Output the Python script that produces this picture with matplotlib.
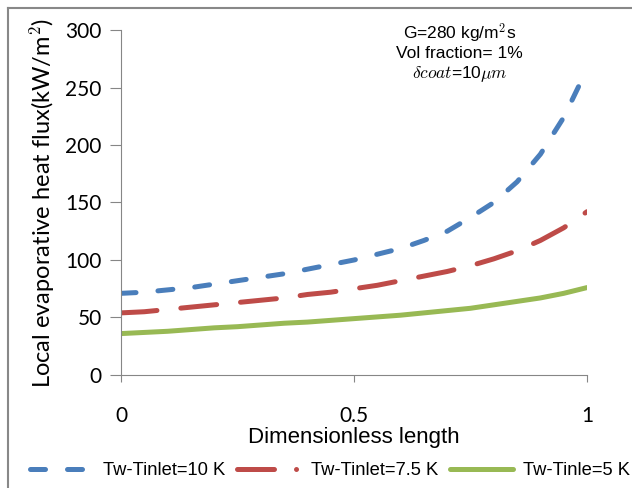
import matplotlib.pyplot as plt
from matplotlib.lines import Line2D

plt.rcParams['font.family'] = ['Liberation Sans', 'DejaVu Sans']
plt.rcParams['mathtext.fontset'] = 'cm'

x = [0, 0.05, 0.1, 0.15, 0.2, 0.25, 0.3, 0.35, 0.4, 0.45, 0.5,
     0.55, 0.6, 0.65, 0.7, 0.75, 0.8, 0.85, 0.9, 0.95, 1.0]
flux_10 = [71, 72, 74, 76, 79, 82, 85, 88, 92, 96, 100,
           105, 110, 117, 125, 137, 150, 168, 192, 224, 266]
flux_75 = [54, 55, 57, 59, 61, 63, 65, 67, 70, 72, 75,
           78, 82, 86, 90, 95, 101, 108, 117, 128, 142]
flux_5 = [36, 37, 38, 39.5, 41, 42, 43.5, 45, 46, 47.5, 49,
          50.5, 52, 54, 56, 58, 61, 64, 67, 71, 76]
labels = ["Tw-Tinlet=10 K", "Tw-Tinlet=7.5 K", "Tw-Tinle=5 K"]
colors = ["#4a7ebb", "#be4b48", "#98b954"]

LW = 3.6
blue_style = dict(color=colors[0], lw=LW, dashes=(3.0, 4.4), dash_capstyle="round")
red_style = dict(color=colors[1], lw=LW, dashes=(7.2, 4.8), dash_capstyle="round")
green_style = dict(color=colors[2], lw=LW, solid_capstyle="round")

fig = plt.figure(figsize=(6.32, 4.88), dpi=100)
ax = fig.add_axes([0.1915, 0.2316, 0.7373, 0.7069])

ax.plot(x, flux_10, **blue_style)
ax.plot(x, flux_75, **red_style)
ax.plot(x, flux_5, **green_style)

ax.set_xlim(0, 1)
ax.set_ylim(0, 300)
ax.set_xticks([0, 0.5, 1])
ax.set_xticklabels(["0", "0.5", "1"])
ax.set_yticks(range(0, 301, 50))
for s in ["top", "right"]:
    ax.spines[s].set_visible(False)
for s in ["left", "bottom"]:
    ax.spines[s].set_color("#868686")
ax.tick_params(axis="x", direction="out", length=5, color="#868686", pad=17)
ax.tick_params(axis="y", direction="out", length=8, color="#868686", pad=6)
for lab in ax.get_xticklabels() + ax.get_yticklabels():
    lab.set_family("Lato")
    lab.set_fontsize(15)
ax.set_xlabel("Dimensionless length", fontsize=16, labelpad=1)
ax.set_ylabel("Local evaporative heat flux(kW/m$^2$)", fontsize=17, labelpad=6,
              family="Lato")

ax.text(0.727, 1.025, "G=280 kg/m$^2$s\nVol fraction= 1%\n$\\delta coat$=10$\\mu m$",
        transform=ax.transAxes, ha="center", va="top", fontsize=12.5, linespacing=1.15)

handles = [
    Line2D([], [], **blue_style),
    Line2D([], [], color=colors[1], lw=LW, dashes=(7.4, 4.4, 0.01, 20),
           dash_capstyle="round"),
    Line2D([], [], **green_style),
]
fig.legend(handles, labels, loc="center", bbox_to_anchor=(0.522, 0.035), ncol=3,
           frameon=False, fontsize=13.2, handlelength=3.45, columnspacing=0.65,
           handletextpad=0.55)

# outer chart border (left and top edges visible)
fig.add_artist(Line2D([0.013, 0.013], [0, 0.984], transform=fig.transFigure,
                      color="#888888", lw=1.5))
fig.add_artist(Line2D([0.013, 1], [0.984, 0.984], transform=fig.transFigure,
                      color="#888888", lw=1.5))

fig.savefig("out.png", dpi=100)
